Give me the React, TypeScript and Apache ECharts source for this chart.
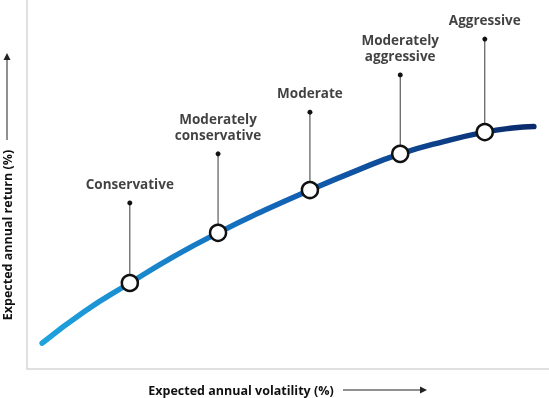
import React, { useEffect, useRef } from "react";
import * as echarts from "echarts";

// Abstract units: volatility 0-100 (x), return 0-100 (y)
const curveVolatility = [2.9, 11, 19.7, 28, 36.6, 45.5, 54.2, 63, 71.5, 80, 87.7, 93, 97.1];
const curveReturn = [7.0, 15.6, 23.3, 30.4, 36.9, 43.0, 48.5, 53.7, 58.3, 61.7, 64.2, 65.3, 65.7];

const profiles = ["Conservative", "Moderately\nconservative", "Moderate", "Moderately\naggressive", "Aggressive"];
const profileVolatility = [19.7, 36.6, 54.2, 71.5, 87.7];
const profileReturn = [23.3, 36.9, 48.5, 58.3, 64.2];
const calloutTop = [45.0, 58.3, 69.6, 79.7, 89.4];

const xTitle = "Expected annual volatility (%)";
const yTitle = "Expected annual return (%)";

export default function App() {
  const ref = useRef<HTMLDivElement>(null);
  useEffect(() => {
    const chart = echarts.init(ref.current!, undefined, { renderer: "svg" });
    const font = "'Open Sans', 'Noto Sans', sans-serif";
    chart.setOption({
      animation: false,
      grid: { left: 27, right: 0, top: 0, bottom: 29 },
      xAxis: {
        type: "value", min: 0, max: 100,
        axisLine: { show: true, lineStyle: { color: "#d6d6d6", width: 1.5 } },
        axisTick: { show: false }, axisLabel: { show: false }, splitLine: { show: false },
      },
      yAxis: {
        type: "value", min: 0, max: 100,
        axisLine: { show: true, lineStyle: { color: "#d6d6d6", width: 1.5 } },
        axisTick: { show: false }, axisLabel: { show: false }, splitLine: { show: false },
      },
      series: [
        {
          type: "line",
          smooth: true,
          symbol: "none",
          data: curveVolatility.map((v, i) => [v, curveReturn[i]]),
          lineStyle: {
            width: 5.5,
            cap: "round",
            color: new echarts.graphic.LinearGradient(0, 0, 1, 0, [
              { offset: 0, color: "#1ea3de" },
              { offset: 0.5, color: "#1262b5" },
              { offset: 1, color: "#0a2a6c" },
            ]),
          },
          z: 1,
        },
        {
          type: "custom",
          data: profileVolatility.map((v, i) => [v, profileReturn[i], calloutTop[i]]),
          encode: { x: 0, y: [1, 2] },
          renderItem: (params: any, api: any) => {
            const p0 = api.coord([api.value(0), api.value(1)]);
            const p1 = api.coord([api.value(0), api.value(2)]);
            return {
              type: "group",
              children: [
                { type: "line", shape: { x1: p0[0], y1: p0[1], x2: p1[0], y2: p1[1] }, style: { stroke: "#3a3a3a", lineWidth: 1 } },
                { type: "circle", shape: { cx: p1[0], cy: p1[1], r: 2.5 }, style: { fill: "#111" } },
              ],
            };
          },
          z: 2,
        },
        {
          type: "scatter",
          data: profileVolatility.map((v, i) => [v, profileReturn[i]]),
          symbol: "circle",
          symbolSize: 16,
          itemStyle: { color: "#ffffff", borderColor: "#111", borderWidth: 2.5, opacity: 1 },
          emphasis: { disabled: true },
          z: 3,
        },
        {
          type: "scatter",
          data: profileVolatility.map((v, i) => ({ value: [v, calloutTop[i]], name: profiles[i] })),
          symbolSize: 0,
          itemStyle: { color: "transparent" },
          emphasis: { disabled: true },
          label: {
            show: true,
            position: "top",
            distance: 11,
            formatter: (p: any) => p.name,
            fontFamily: font,
            fontWeight: "bold",
            fontSize: 13.5,
            lineHeight: 16,
            color: "#111111",
            align: "center",
          },
          z: 4,
        },
      ],
      graphic: [
        {
          type: "text", x: 241, y: 390,
          style: { text: xTitle, font: `bold 12.5px ${font}`, fill: "#111111", align: "center", verticalAlign: "middle" },
        },
        { type: "line", shape: { x1: 343, y1: 390, x2: 422, y2: 390 }, style: { stroke: "#222", lineWidth: 1 } },
        { type: "polygon", shape: { points: [[420, 386.5], [427, 390], [420, 393.5]] }, style: { fill: "#222" } },
        {
          type: "text", x: 7, y: 235, rotation: Math.PI / 2,
          style: { text: yTitle, font: `bold 12.5px ${font}`, fill: "#111111", align: "center", verticalAlign: "middle" },
        },
        { type: "line", shape: { x1: 7, y1: 140, x2: 7, y2: 58 }, style: { stroke: "#222", lineWidth: 1 } },
        { type: "polygon", shape: { points: [[3.5, 60], [7, 53], [10.5, 60]] }, style: { fill: "#222" } },
      ],
    });
    return () => chart.dispose();
  }, []);
  return <div ref={ref} style={{ position: "fixed", left: 0, top: 0, width: 549, height: 398 }} />;
}
